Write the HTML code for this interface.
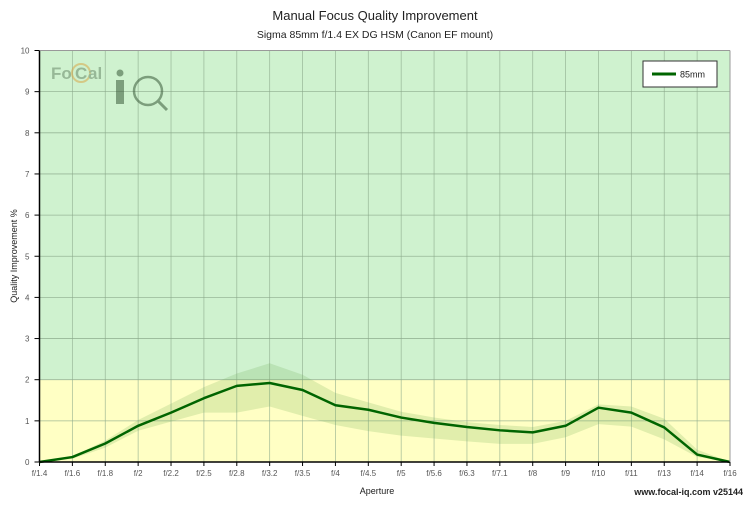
<!DOCTYPE html>
<html><head><meta charset="utf-8"><style>
body{margin:0;background:#fff;font-family:"Liberation Sans",sans-serif}
svg text{font-family:"Liberation Sans",sans-serif}
</style></head><body>
<svg id="chart" width="750" height="500" xmlns="http://www.w3.org/2000/svg">
<text x="375" y="20" text-anchor="middle" font-size="13" fill="#222">Manual Focus Quality Improvement</text>
<text x="375" y="38" text-anchor="middle" font-size="10.5" fill="#222">Sigma 85mm f/1.4 EX DG HSM (Canon EF mount)</text>
<g id="plot"></g>
<g opacity="0.55">
<text x="51" y="79" font-size="17" font-weight="bold" fill="#6a8a6a">Fo</text>
<circle cx="81" cy="73" r="9" fill="none" stroke="#d9a84a" stroke-width="2"/>
<text x="75" y="79" font-size="17" font-weight="bold" fill="#6a8a6a">C</text>
<text x="88" y="79" font-size="17" font-weight="bold" fill="#6a8a6a">al</text>
<rect x="116" y="80" width="8" height="24" fill="#3a5a3a"/>
<circle cx="120" cy="73" r="3.5" fill="#3a5a3a"/>
<circle cx="148" cy="91" r="14" fill="none" stroke="#3a5a3a" stroke-width="2.5"/>
<line x1="158" y1="101" x2="167" y2="110" stroke="#3a5a3a" stroke-width="3"/>
</g>
<g>
<rect x="643" y="61" width="74" height="26" fill="#fff" stroke="#333" stroke-width="1"/>
<line x1="652" y1="74" x2="676" y2="74" stroke="#006400" stroke-width="3"/>
<text x="680" y="77.5" font-size="9" fill="#222">85mm</text>
</g>
<text x="377" y="494" text-anchor="middle" font-size="9" fill="#222">Aperture</text>
<text x="17" y="256" text-anchor="middle" font-size="9" fill="#222" transform="rotate(-90 17 256)">Quality Improvement %</text>
<text x="743" y="495" text-anchor="end" font-size="9" font-weight="bold" fill="#222">www.focal-iq.com  v25144</text>
</svg>
<script>
const categories=["f/1.4","f/1.6","f/1.8","f/2","f/2.2","f/2.5","f/2.8","f/3.2","f/3.5","f/4","f/4.5","f/5","f/5.6","f/6.3","f/7.1","f/8","f/9","f/10","f/11","f/13","f/14","f/16"];
const values=[0,0.12,0.45,0.88,1.2,1.55,1.85,1.92,1.75,1.38,1.27,1.08,0.95,0.85,0.77,0.72,0.88,1.32,1.2,0.84,0.18,0];
const bandUpper=[0,0.14,0.52,1.02,1.42,1.82,2.15,2.4,2.12,1.68,1.45,1.22,1.08,0.97,0.9,0.85,1.0,1.4,1.35,1.05,0.3,0];
const bandLower=[0,0.08,0.35,0.76,0.98,1.2,1.2,1.35,1.12,0.9,0.75,0.64,0.57,0.5,0.44,0.44,0.6,0.92,0.86,0.55,0.12,0];
const yTicks=[0,1,2,3,4,5,6,7,8,9,10];
const X0=39.5,X1=730,Y0=462,Y1=50.5,YMAX=10;
const NS="http://www.w3.org/2000/svg";
const xs=i=>X0+i*(X1-X0)/(categories.length-1);
const ys=v=>Y0-v*(Y0-Y1)/YMAX;
const g=document.getElementById('plot');
function mk(t,a){const e=document.createElementNS(NS,t);for(const k in a)e.setAttribute(k,a[k]);g.appendChild(e);return e;}
let e;
e=mk('rect',{x:X0,y:ys(10),width:X1-X0,height:ys(2)-ys(10),fill:'#cff2cf'});


e=mk('rect',{x:X0,y:ys(2),width:X1-X0,height:ys(0)-ys(2),fill:'#ffffc4'});


categories.forEach((c,i)=>{
 e=mk('line',{x1:xs(i),x2:xs(i),y1:Y1,y2:Y0,stroke:'#8aa88a','stroke-width':0.8,'stroke-opacity':0.7});
 
 
 e=mk('line',{x1:xs(i),x2:xs(i),y1:Y0,y2:Y0+4,stroke:'#000'});
 
 
 e=mk('text',{x:xs(i),y:Y0+14,'text-anchor':'middle','font-size':8,fill:'#555'});e.textContent=c;
 
 
});
yTicks.forEach(v=>{
 e=mk('line',{x1:X0,x2:X1,y1:ys(v),y2:ys(v),stroke:'#8aa88a','stroke-width':0.8,'stroke-opacity':0.8});
 
 
 e=mk('line',{x1:X0-5,x2:X0,y1:ys(v),y2:ys(v),stroke:'#000'});
 
 
 e=mk('text',{x:X0-10,y:ys(v)+3,'text-anchor':'end','font-size':8,fill:'#555'});e.textContent=v;
 
 
});
let d=bandUpper.map((v,i)=>(i?'L':'M')+xs(i)+' '+ys(v)).join(' ');
for(let i=bandLower.length-1;i>=0;i--)d+=' L'+xs(i)+' '+ys(bandLower[i]);
e=mk('path',{d:d+'Z',fill:'#6aa84f','fill-opacity':0.2});


e=mk('polyline',{points:values.map((v,i)=>xs(i)+','+ys(v)).join(' '),fill:'none',stroke:'#006400','stroke-width':2.5,'stroke-linejoin':'round'});


e=mk('line',{x1:X0,x2:X0,y1:Y1,y2:Y0,stroke:'#000','stroke-width':1.5});


e=mk('line',{x1:X0,x2:X1,y1:Y0,y2:Y0,stroke:'#000','stroke-width':1.5});


e=mk('line',{x1:X1,x2:X1,y1:Y1,y2:Y0,stroke:'#999','stroke-width':1});


e=mk('line',{x1:X0,x2:X1,y1:Y1,y2:Y1,stroke:'#999','stroke-width':1});


</script>
</body></html>
